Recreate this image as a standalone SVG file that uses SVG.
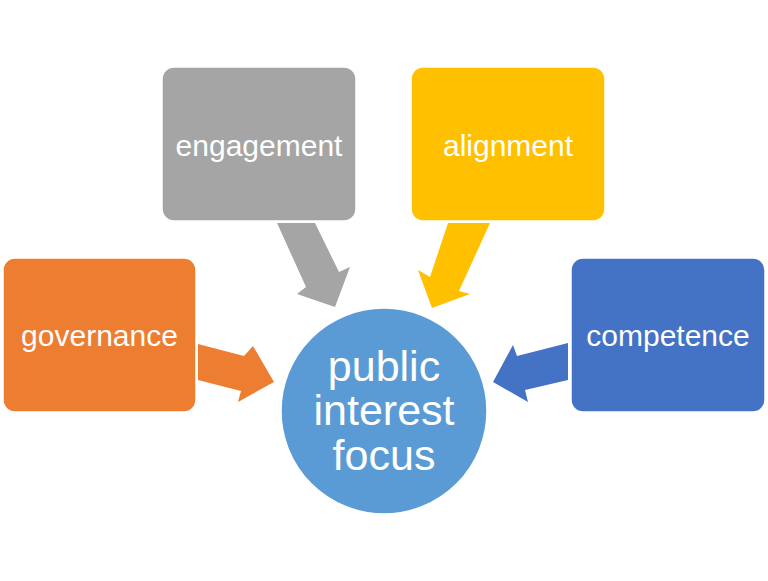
<svg xmlns="http://www.w3.org/2000/svg" width="768" height="581" viewBox="0 0 768 581">
<style>
.box{stroke:#fff;stroke-width:1.5}
.lbl{font-family:"Liberation Sans",Arial,sans-serif;font-size:30px;fill:#fff;text-anchor:middle;dominant-baseline:central}
.big{font-family:"Liberation Sans",Arial,sans-serif;font-size:43px;fill:#fff;text-anchor:middle;dominant-baseline:central}
</style>
<rect width="768" height="581" fill="#fff"/>
<g id="connectors">
<polygon points="198,344 244,356 253,346 274,382 238,402 241,391 198,380" fill="#ED7D31"/>
<polygon points="277,223 315,223 339,272 350,267 335,307 297,294 306,287" fill="#A5A5A5"/>
<polygon points="448,223 490,223 459,291 470,294 432,308 418,270 430,277" fill="#FFC000"/>
<polygon points="568,343 517,356 513,345 493,382 528,402 525,390 568,380" fill="#4472C4"/>
</g>
<g id="governance">
<rect class="box" x="3" y="258" width="193" height="154" rx="12" fill="#ED7D31"/>
<text class="lbl" x="99.5" y="335">governance</text>
</g>
<g id="engagement">
<rect class="box" x="162" y="67" width="194" height="154" rx="12" fill="#A5A5A5"/>
<text class="lbl" x="259" y="145">engagement</text>
</g>
<g id="alignment">
<rect class="box" x="411" y="67" width="194" height="154" rx="12" fill="#FFC000"/>
<text class="lbl" x="508" y="145">alignment</text>
</g>
<g id="competence">
<rect class="box" x="571" y="258" width="194" height="154" rx="12" fill="#4472C4"/>
<text class="lbl" x="668" y="335">competence</text>
</g>
<g id="focus">
<circle cx="384" cy="411" r="103" fill="#5B9BD5" stroke="#fff" stroke-width="1.5"/>
<text class="big" x="384" y="366">public</text>
<text class="big" x="384" y="410">interest</text>
<text class="big" x="384" y="455">focus</text>
</g>
</svg>
